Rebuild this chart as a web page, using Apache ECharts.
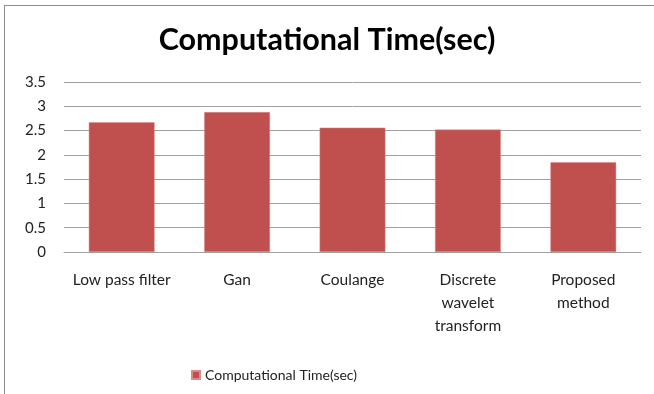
<!DOCTYPE html>
<html>
<head>
<meta charset="utf-8">
<script src="https://cdn.jsdelivr.net/npm/echarts@6/dist/echarts.min.js"></script>
<style>
  html, body { margin: 0; padding: 0; background: #fff; }
  #frame { position: absolute; left: 4px; top: 5px; width: 660px; height: 400px;
           border-top: 1px solid #8c8c8c; border-left: 1px solid #8c8c8c; }
  #chart { position: absolute; left: 0; top: 0; width: 654px; height: 394px; }
</style>
</head>
<body>
<div id="frame"></div>
<div id="chart"></div>
<script>
// data
const categories = ['Low pass filter', 'Gan', 'Coulange', 'Discrete wavelet transform', 'Proposed method'];
const categoryLabels = ['Low pass filter', 'Gan', 'Coulange', 'Discrete\nwavelet\ntransform', 'Proposed\nmethod'];
const timeValues = [2.67, 2.88, 2.56, 2.52, 1.85];
const seriesName = 'Computational Time(sec)';

const myChart = echarts.init(document.getElementById('chart'));
const font = 'Lato, "Open Sans", sans-serif';
myChart.setOption({
  animation: false,
  title: {
    text: 'Computational Time(sec)',
    left: 'center',
    top: 20,
    textStyle: { fontFamily: font, fontSize: 30.5, fontWeight: 'bold', color: '#000' }
  },
  legend: {
    data: [seriesName],
    left: 186,
    top: 363,
    itemWidth: 8,
    itemHeight: 8,
    itemGap: 4,
    icon: 'rect',
    textStyle: { fontFamily: font, fontSize: 14, color: '#222' }
  },
  grid: { left: 64, right: 13, top: 82, bottom: 142, containLabel: false },
  xAxis: {
    type: 'category',
    data: categories,
    axisLine: { show: true, lineStyle: { color: '#a0a0a0', width: 1 } },
    axisTick: { show: false },
    axisLabel: {
      interval: 0,
      margin: 16,
      lineHeight: 23,
      fontFamily: font,
      fontSize: 15.5,
      color: '#222',
      formatter: function(value, idx) {
        return categoryLabels[idx];
      }
    }
  },
  yAxis: {
    type: 'value',
    min: 0,
    max: 3.5,
    interval: 0.5,
    axisLine: { show: false },
    axisTick: { show: false },
    splitLine: { show: true, lineStyle: { color: '#a0a0a0', width: 1 } },
    axisLabel: { margin: 18, fontFamily: font, fontSize: 15, color: '#222' }
  },
  series: [
    {
      name: seriesName,
      type: 'bar',
      data: timeValues,
      barWidth: '57%',
      itemStyle: { color: '#c0504d', borderColor: '#d98b89', borderWidth: 0.5 }
    }
  ]
});
</script>
</body>
</html>
